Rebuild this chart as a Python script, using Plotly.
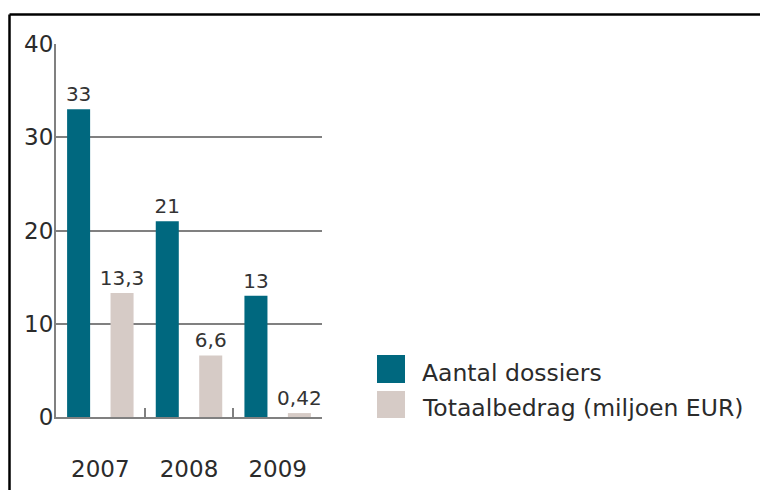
import plotly.graph_objects as go

years = ["2007", "2008", "2009"]
series_names = ["Aantal dossiers", "Totaalbedrag (miljoen EUR)"]
dossiers = [33, 21, 13]
bedrag = [13.3, 6.6, 0.42]
colors = ["#00687f", "#d6cbc6"]
y_ticks = [0, 10, 20, 30, 40]

W, H = 760, 490
# plot area in pixels
L, R, T, B = 56, 322, 44, 417


def px(xp):
    return (xp - L) / (R - L)


def py(yp):
    return (B - yp) / (B - T)


def lab(v):
    return str(v).replace(".", ",")


FONT = "DejaVu Sans"
TXT = "#2b2b2b"
GRID = "#808080"

fig = go.Figure()
for name, vals, col in zip(series_names, [dossiers, bedrag], colors):
    fig.add_trace(go.Bar(
        x=years, y=vals, name=name, marker=dict(color=col, line=dict(width=0)),
        text=[lab(v) for v in vals], textposition="outside",
        constraintext="none",
        textfont=dict(family=FONT, size=20, color="#333333"),
        cliponaxis=False, showlegend=False,
    ))

fig.update_layout(
    width=W, height=H,
    margin=dict(l=L, r=W - R, t=T, b=H - B, pad=0, autoexpand=False),
    paper_bgcolor="white", plot_bgcolor="white",
    barmode="group", bargap=0.02, bargroupgap=0.47,
    font=dict(family=FONT, color=TXT),
)
fig.update_yaxes(
    range=[0, 40], tickvals=y_ticks, ticktext=[str(v) for v in y_ticks],
    showgrid=True, gridcolor=GRID, gridwidth=2,
    showline=True, linecolor=GRID, linewidth=2, zeroline=False,
    ticks="", tickfont=dict(family=FONT, size=23, color=TXT),
    ticklabelstandoff=-4, automargin=False,
)
fig.update_xaxes(
    showline=True, linecolor=GRID, linewidth=2,
    ticks="inside", tickson="boundaries", ticklen=9, tickwidth=2, tickcolor=GRID,
    tickfont=dict(family=FONT, size=23, color=TXT),
    ticklabelstandoff=30, showgrid=False, automargin=False,
)

# outer frame (top and left edges)
fig.add_shape(type="line", xref="paper", yref="paper",
              x0=px(9.5), x1=px(W + 10), y0=py(14.5), y1=py(14.5),
              line=dict(color="black", width=2.5))
fig.add_shape(type="line", xref="paper", yref="paper",
              x0=px(9.5), x1=px(9.5), y0=py(14.5), y1=py(H + 10),
              line=dict(color="black", width=2.5))

# legend drawn manually with large swatches
sw = [(355, 383), (391, 418)]
ty = [373, 408]
for (y0, y1), t_y, name, col in zip(sw, ty, series_names, colors):
    fig.add_shape(type="rect", xref="paper", yref="paper",
                  x0=px(377), x1=px(405), y0=py(y1), y1=py(y0),
                  fillcolor=col, line=dict(width=0))
    fig.add_annotation(xref="paper", yref="paper", x=px(420), y=py(t_y),
                       xanchor="left", yanchor="middle", showarrow=False,
                       text=name, font=dict(family=FONT, size=23.5, color=TXT))

fig.write_html(
    "out.html",
    config={"displayModeBar": False},
    post_script="document.body.style.margin='0';document.body.style.overflow='hidden';",
)
